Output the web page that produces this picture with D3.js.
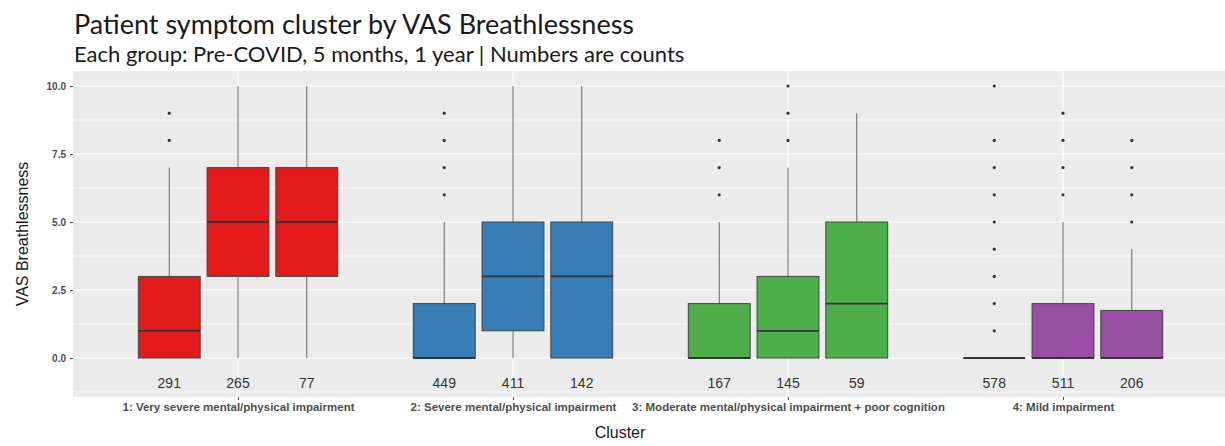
<!DOCTYPE html>
<html>
<head>
<meta charset="utf-8">
<script src="https://cdn.jsdelivr.net/npm/d3@7"></script>
<style>
  html, body { margin: 0; padding: 0; background: #ffffff; }
  svg { display: block; }
</style>
</head>
<body>
<svg id="chart" width="1225" height="446"></svg>
<script>
// ---------------- data ----------------
const clusters = [
  "1: Very severe mental/physical impairment",
  "2: Severe mental/physical impairment",
  "3: Moderate mental/physical impairment + poor cognition",
  "4: Mild impairment"
];
const timepoints = ["Pre-COVID", "5 months", "1 year"];
const counts = [[291, 265, 77], [449, 411, 142], [167, 145, 59], [578, 511, 206]];
const q1 = [[0, 3, 3], [0, 1, 0], [0, 0, 0], [0, 0, 0]];
const medians = [[1, 5, 5], [0, 3, 3], [0, 1, 2], [0, 0, 0]];
const q3 = [[3, 7, 7], [2, 5, 5], [2, 3, 5], [0, 2, 1.75]];
const whiskerLow = [[0, 0, 0], [0, 0, 0], [0, 0, 0], [0, 0, 0]];
const whiskerHigh = [[7, 10, 10], [5, 10, 10], [5, 7, 9], [0, 5, 4]];
const outliers = [
  [[8, 9], [], []],
  [[6, 7, 8, 9], [], []],
  [[6, 7, 8], [8, 9, 10], []],
  [[1, 2, 3, 4, 5, 6, 7, 8, 10], [6, 7, 8, 9], [5, 6, 7, 8]]
];
const yTicks = [0, 2.5, 5, 7.5, 10];
const yMinor = [-1.25, 1.25, 3.75, 6.25, 8.75];
const clusterColors = ["#E41A1C", "#377EB8", "#4DAF4A", "#984EA3"];
const titleText = "Patient symptom cluster by VAS Breathlessness";
const subtitleText = "Each group: Pre-COVID, 5 months, 1 year | Numbers are counts";
const xTitle = "Cluster";
const yTitle = "VAS Breathlessness";
const countLabelY = -0.92;

// ---------------- layout ----------------
const svg = d3.select("#chart");
const panel = { left: 73, right: 1228, top: 71, bottom: 397 };
const sans = "'Liberation Sans', Arial, Helvetica, sans-serif";

const x = d3.scalePoint().domain(clusters).range([panel.left, panel.right]).padding(0.6);
const dodge = d3.scaleBand().domain(timepoints)
  .range([-0.375 * x.step(), 0.375 * x.step()])
  .paddingInner(0.1).paddingOuter(0.05);
const y = d3.scaleLinear().domain([0, 10]).range([358, 86]);

// panel background
svg.append("rect")
  .attr("x", panel.left).attr("y", panel.top)
  .attr("width", panel.right - panel.left).attr("height", panel.bottom - panel.top)
  .attr("fill", "#EBEBEB");

// grid
const grid = svg.append("g");
grid.selectAll("line.minor").data(yMinor).enter().append("line")
  .attr("x1", panel.left).attr("x2", panel.right)
  .attr("y1", d => y(d)).attr("y2", d => y(d))
  .attr("stroke", "#ffffff").attr("stroke-width", 0.6);
grid.selectAll("line.major").data(yTicks).enter().append("line")
  .attr("x1", panel.left).attr("x2", panel.right)
  .attr("y1", d => y(d)).attr("y2", d => y(d))
  .attr("stroke", "#ffffff").attr("stroke-width", 1.1);
grid.selectAll("line.vmajor").data(clusters).enter().append("line")
  .attr("x1", d => x(d)).attr("x2", d => x(d))
  .attr("y1", panel.top).attr("y2", panel.bottom)
  .attr("stroke", "#ffffff").attr("stroke-width", 1.1);

// y axis
const yAxis = d3.axisLeft(y).tickValues(yTicks).tickFormat(d3.format(".1f")).tickSize(3).tickPadding(4);
const gy = svg.append("g").attr("transform", `translate(${panel.left},0)`).call(yAxis);
gy.select(".domain").remove();
gy.selectAll(".tick line").attr("stroke", "#4d4d4d");
gy.selectAll(".tick text")
  .attr("fill", "#4d4d4d").style("font-family", sans)
  .style("font-size", "10px").style("font-weight", "bold");

// x axis
const xAxis = d3.axisBottom(x).tickSize(3).tickPadding(3);
const gx = svg.append("g").attr("transform", `translate(0,${panel.bottom})`).call(xAxis);
gx.select(".domain").remove();
gx.selectAll(".tick line").attr("stroke", "#4d4d4d");
gx.selectAll(".tick text")
  .attr("fill", "#4d4d4d").style("font-family", sans)
  .style("font-size", "11.5px").style("font-weight", "bold");

// boxes
const boxData = [];
clusters.forEach((c, ci) => {
  timepoints.forEach((t, ti) => {
    boxData.push({
      c, t, ci, ti,
      q1: q1[ci][ti], med: medians[ci][ti], q3: q3[ci][ti],
      lo: whiskerLow[ci][ti], hi: whiskerHigh[ci][ti],
      out: outliers[ci][ti], n: counts[ci][ti]
    });
  });
});
const bw = dodge.bandwidth();
const boxes = svg.append("g").selectAll("g").data(boxData).enter().append("g")
  .attr("transform", d => `translate(${x(d.c) + dodge(d.t) + bw / 2},0)`);

// whiskers
boxes.append("line").attr("x1", 0).attr("x2", 0)
  .attr("y1", d => y(d.q3)).attr("y2", d => y(d.hi))
  .attr("stroke", "#666").attr("stroke-width", 1);
boxes.append("line").attr("x1", 0).attr("x2", 0)
  .attr("y1", d => y(d.q1)).attr("y2", d => y(d.lo))
  .attr("stroke", "#666").attr("stroke-width", 1);
// box
boxes.append("rect")
  .attr("x", -bw / 2).attr("width", bw)
  .attr("y", d => y(d.q3)).attr("height", d => y(d.q1) - y(d.q3))
  .attr("fill", d => clusterColors[d.ci])
  .attr("stroke", "#444").attr("stroke-width", 1);
// median
boxes.append("line")
  .attr("x1", -bw / 2).attr("x2", bw / 2)
  .attr("y1", d => y(d.med)).attr("y2", d => y(d.med))
  .attr("stroke", "#333").attr("stroke-width", 1.8);
// outliers
boxes.selectAll("circle").data(d => d.out).enter().append("circle")
  .attr("cx", 0).attr("cy", d => y(d)).attr("r", 1.6).attr("fill", "#333");
// counts
boxes.append("text")
  .attr("x", 0).attr("y", y(countLabelY)).attr("dy", "0.35em")
  .attr("text-anchor", "middle")
  .style("font-family", sans)
  .style("font-size", "14px").attr("fill", "#333")
  .text(d => d.n);

// axis titles
svg.append("text")
  .attr("x", (panel.left + 1167) / 2).attr("y", 438)
  .attr("text-anchor", "middle")
  .style("font-family", sans).style("font-size", "16px")
  .attr("fill", "#1a1a1a").text(xTitle);
svg.append("text")
  .attr("transform", `translate(28,${(panel.top + panel.bottom) / 2}) rotate(-90)`)
  .attr("text-anchor", "middle")
  .style("font-family", sans).style("font-size", "16px")
  .attr("fill", "#1a1a1a").text(yTitle);

// titles
svg.append("text").attr("x", 74).attr("y", 34)
  .style("font-family", "Lato, 'Open Sans', sans-serif").style("font-size", "27px")
  .attr("fill", "#1a1a1a").text(titleText);
svg.append("text").attr("x", 74).attr("y", 62)
  .style("font-family", "Lato, 'Open Sans', sans-serif").style("font-size", "22px")
  .attr("fill", "#1a1a1a").text(subtitleText);
</script>
</body>
</html>
